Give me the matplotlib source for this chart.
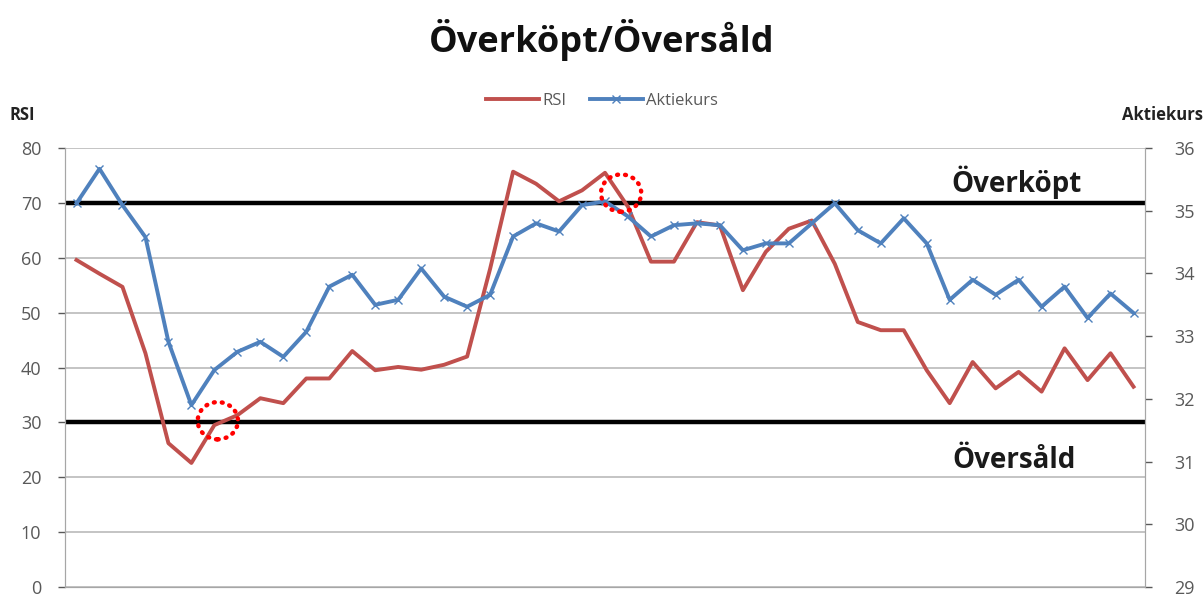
import numpy as np
import matplotlib.pyplot as plt
from matplotlib.patches import Ellipse

plt.rcParams['font.family'] = ['Open Sans', 'DejaVu Sans']

# RSI (left axis) and share price (right axis)
rsi = [59.6, 57.1, 54.7, 42.6, 26.2, 22.6, 29.5, 31.3, 34.4, 33.5,
       38.0, 38.0, 43.0, 39.5, 40.1, 39.6, 40.5, 42.0, 58.0, 75.7,
       73.5, 70.3, 72.3, 75.5, 69.3, 59.3, 59.3, 66.5, 65.9, 54.1,
       61.1, 65.3, 66.8, 58.9, 48.3, 46.8, 46.8, 39.5, 33.5, 41.0,
       36.2, 39.2, 35.6, 43.5, 37.7, 42.6, 36.5]
kurs = [35.12, 35.67, 35.09, 34.58, 32.91, 31.90, 32.46, 32.75, 32.91, 32.67,
        33.07, 33.79, 33.98, 33.50, 33.58, 34.08, 33.63, 33.47, 33.66, 34.59,
        34.80, 34.67, 35.09, 35.15, 34.91, 34.59, 34.77, 34.80, 34.77, 34.37,
        34.48, 34.48, 34.80, 35.12, 34.69, 34.48, 34.88, 34.48, 33.58, 33.90,
        33.66, 33.90, 33.47, 33.79, 33.29, 33.68, 33.37]
days = np.arange(len(rsi))

levels = [70, 30]
level_labels = ['Överköpt', 'Översåld']
# red dotted circles marking the crossings (x = day index, y = RSI)
circle_x = [6.15, 23.7]
circle_y = [30.3, 71.8]

red = '#C0504D'
blue = '#4F81BD'
grey = '#595959'

fig = plt.figure(figsize=(12.04, 6.12), dpi=100)
ax = fig.add_axes([0.054, 0.041, 0.897, 0.717])
ax2 = ax.twinx()

ax.set_xlim(-0.5, len(rsi) - 0.5)
ax.set_ylim(0, 80)
ax.set_yticks(np.arange(0, 81, 10))
ax2.set_ylim(29, 36)
ax2.set_yticks(np.arange(29, 37, 1))

ax.grid(axis='y', color='#BFBFBF', lw=1.3)
ax.set_axisbelow(True)
ax.set_xticks([])

for a in (ax, ax2):
    for s in a.spines.values():
        s.set_color('#A6A6A6')
    a.spines['top'].set_visible(False)
ax.tick_params(axis='y', colors=grey, labelsize=13, length=5, width=1, pad=12)
ax2.tick_params(axis='y', colors=grey, labelsize=13, length=5, width=1, pad=16)
for lbl in ax.get_yticklabels() + ax2.get_yticklabels():
    lbl.set_color(grey)

for lev in levels:
    ax.axhline(lev, color='black', lw=3.2, zorder=2)

ax.text(40.9, 73.8, level_labels[0], fontsize=20, fontweight='bold',
        color='#1a1a1a', ha='center', va='center')
ax.text(40.8, 23.1, level_labels[1], fontsize=20, fontweight='bold',
        color='#1a1a1a', ha='center', va='center')

l1, = ax.plot(days, rsi, color=red, lw=2.8, zorder=3, label='RSI')
l2, = ax2.plot(days, kurs, color=blue, lw=2.8, marker='x', ms=6, mew=1,
               zorder=3, label='Aktiekurs')

for cx, cy in zip(circle_x, circle_y):
    ax2.add_patch(Ellipse((cx, cy), 1.75, 6.8, fill=False, ec='#FF0000',
                          lw=3.2, ls=(0, (0.2, 1.6)), capstyle='round',
                          zorder=5, transform=ax.transData))

fig.text(0.5, 0.935, 'Överköpt/Översåld', ha='center', va='center',
         fontsize=26, fontweight='bold', color='#111111')
fig.legend(handles=[l1, l2], loc='center', bbox_to_anchor=(0.5, 0.835),
           ncol=2, frameon=False, fontsize=12, handlelength=3.2,
           columnspacing=1.4, handletextpad=0.2, labelcolor=grey)
fig.text(0.008, 0.812, 'RSI', fontsize=12, fontweight='bold', color='#222222',
         va='center')
fig.text(0.999, 0.812, 'Aktiekurs', fontsize=12, fontweight='bold',
         color='#222222', va='center', ha='right')

fig.savefig('out.png', dpi=100)
